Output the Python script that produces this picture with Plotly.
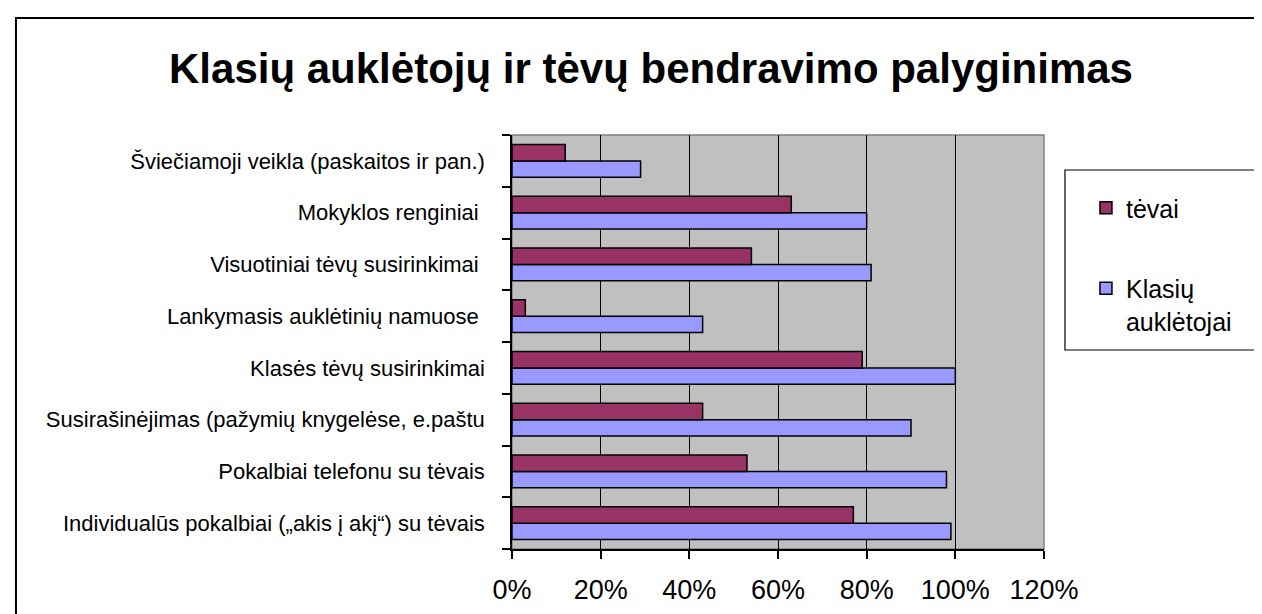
import plotly.graph_objects as go

categories = [
    "Individualūs pokalbiai („akis į akį“) su tėvais",
    "Pokalbiai telefonu su tėvais",
    "Susirašinėjimas (pažymių knygelėse, e.paštu",
    "Klasės tėvų susirinkimai",
    "Lankymasis auklėtinių namuose ",
    "Visuotiniai tėvų susirinkimai ",
    "Mokyklos renginiai ",
    "Šviečiamoji veikla (paskaitos ir pan.)",
]
tevai = [0.77, 0.53, 0.43, 0.79, 0.03, 0.54, 0.63, 0.12]
klasiu_aukletojai = [0.99, 0.98, 0.90, 1.00, 0.43, 0.81, 0.80, 0.29]
x_ticks = [0, 0.2, 0.4, 0.6, 0.8, 1.0, 1.2]
x_tick_labels = ["0%", "20%", "40%", "60%", "80%", "100%", "120%"]

FONT = "Liberation Sans, Arial, sans-serif"

fig = go.Figure()
fig.add_trace(go.Bar(
    y=categories, x=klasiu_aukletojai, orientation="h", name="Klasių<br>auklėtojai",
    marker=dict(color="#9999FF", line=dict(color="black", width=1.5)),
    legendgroup="b", legendrank=2,
))
fig.add_trace(go.Bar(
    y=categories, x=tevai, orientation="h", name="tėvai",
    marker=dict(color="#993366", line=dict(color="black", width=1.5)),
    legendgroup="a", legendrank=1,
))

W, H = 1262, 614
L, R, T, B = 503.5, 1036, 127, 541

def px(x):
    return (x - L) / (R - L)

def py(y):
    return (B - y) / (B - T)

shapes = [
    # outer chart frame
    dict(type="rect", xref="paper", yref="paper", x0=px(7), x1=px(1300), y0=py(10), y1=py(660),
         line=dict(color="black", width=2), fillcolor="rgba(0,0,0,0)", layer="below"),
    # plot area border
    dict(type="rect", xref="paper", yref="paper", x0=0, x1=1, y0=0, y1=1,
         line=dict(color="#808080", width=1.5), fillcolor="rgba(0,0,0,0)", layer="below"),
    # legend box
    dict(type="rect", xref="paper", yref="paper", x0=px(1057), x1=px(1300), y0=py(342), y1=py(162),
         line=dict(color="black", width=1.2), fillcolor="rgba(0,0,0,0)"),
]

fig.update_layout(
    width=W, height=H,
    margin=dict(l=L, r=W - R, t=T, b=H - B, pad=0),
    paper_bgcolor="white", plot_bgcolor="#C0C0C0",
    barmode="group", bargap=0.37, bargroupgap=0,
    title=dict(text="<b>Klasių auklėtojų ir tėvų bendravimo palyginimas</b>",
               x=643 / W, xanchor="center", y=1 - 60 / H, yanchor="middle",
               font=dict(family=FONT, size=42, color="black")),
    font=dict(family=FONT, color="black"),
    showlegend=True,
    legend=dict(x=px(1078), xanchor="left", y=py(177), yanchor="top",
                traceorder="grouped", tracegroupgap=45, valign="top",
                font=dict(family=FONT, size=25, color="black"),
                bgcolor="rgba(0,0,0,0)", borderwidth=0),
    shapes=shapes,
    xaxis=dict(range=[0, 1.2], tickvals=x_ticks, ticktext=x_tick_labels,
               showgrid=True, gridcolor="black", gridwidth=1.3,
               showline=True, linecolor="black", linewidth=1.5,
               ticks="outside", ticklen=8, tickcolor="black", tickwidth=1.5,
               tickfont=dict(family=FONT, size=27, color="black"),
               ticklabelstandoff=8, zeroline=False, fixedrange=True),
    yaxis=dict(type="category", categoryorder="array", categoryarray=categories,
               showline=True, linecolor="black", linewidth=1.5,
               ticks="outside", ticklen=8, tickcolor="black", tickwidth=1.5,
               tickson="boundaries", showgrid=False,
               tickfont=dict(family=FONT, size=22, color="black"),
               ticklabelstandoff=21, fixedrange=True),
)

fig.write_html("out.html")
